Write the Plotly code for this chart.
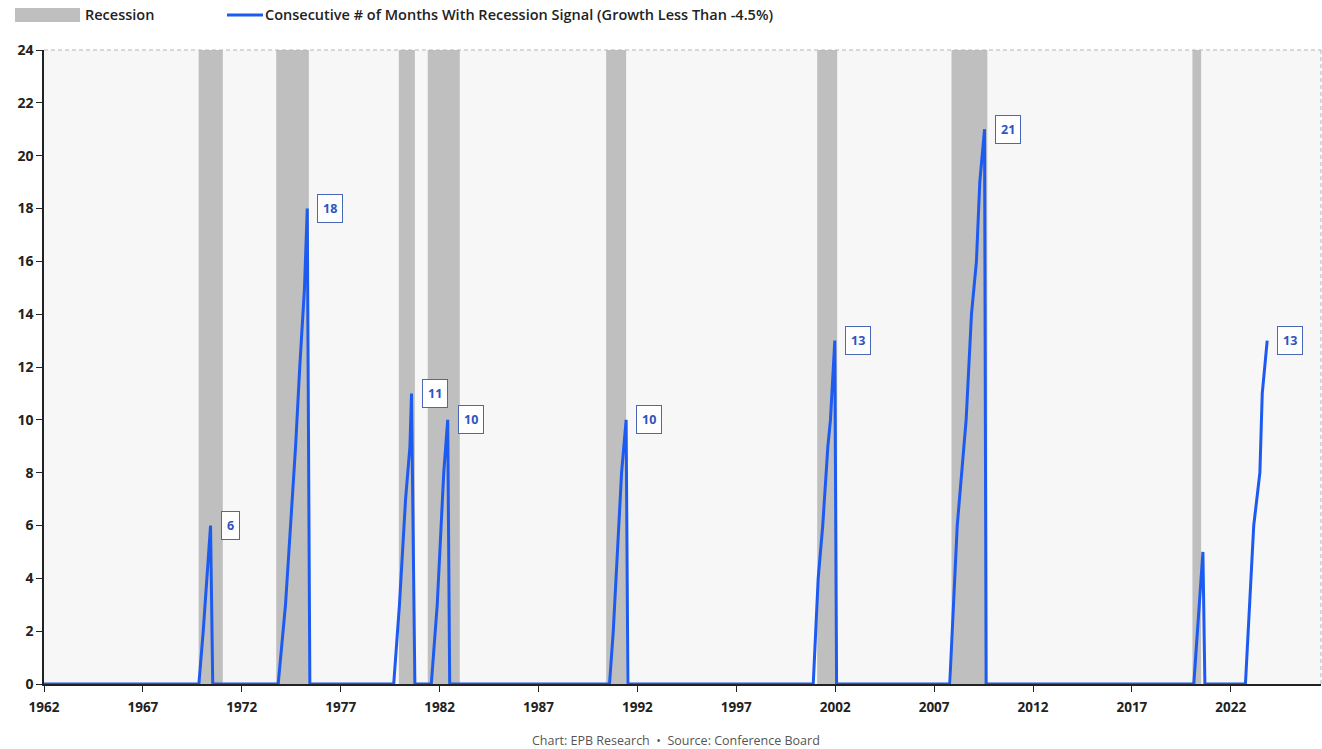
import plotly.graph_objects as go

# ---------------- data ----------------
recession_start = [1969.82, 1973.74, 1979.94, 1981.40, 1990.42, 2001.09, 2007.88, 2020.06]
recession_end = [1971.04, 1975.39, 1980.75, 1983.02, 1991.43, 2002.10, 2009.69, 2020.50]

signal_year = [
    1962.00,
    1969.83, 1970.05, 1970.42, 1970.53,
    1973.84, 1974.21, 1974.46, 1974.72, 1974.93, 1975.17, 1975.31, 1975.44,
    1979.68, 1979.97, 1980.28, 1980.50, 1980.58, 1980.75,
    1981.58, 1981.88, 1982.21, 1982.41, 1982.51,
    1990.59, 1990.78, 1990.98, 1991.20, 1991.43, 1991.52,
    2000.89, 2001.14, 2001.37, 2001.63, 2001.76, 2001.98, 2002.07,
    2007.79, 2008.17, 2008.62, 2008.89, 2009.14, 2009.31, 2009.55, 2009.63,
    2020.13, 2020.59, 2020.69,
    2022.74, 2023.16, 2023.47, 2023.59, 2023.84,
]
signal_count = [
    0,
    0, 2, 6, 0,
    0, 3, 6, 9, 12, 15, 18, 0,
    0, 3, 7, 9, 11, 0,
    0, 3, 8, 10, 0,
    0, 2, 5, 8, 10, 0,
    0, 4, 6, 9, 10, 13, 0,
    0, 6, 10, 14, 16, 19, 21, 0,
    0, 5, 0,
    0, 6, 8, 11, 13,
]

peak_year = [1970.42, 1975.31, 1980.58, 1982.41, 1991.43, 2001.98, 2009.55, 2023.84]
peak_count = [6, 18, 11, 10, 10, 13, 21, 13]

x_tick_years = list(range(1962, 2023, 5))
y_ticks = list(range(0, 25, 2))

# ---------------- styling ----------------
W, H = 1322, 749
PL, PR, PT, PB = 44, 1321, 50, 684
FONT = "Open Sans"
BLUE = "#1d5bf0"
LABEL_BLUE = "#2c55c0"
GRAY = "#bfbfbf"


def px_x(x):
    return (x - PL) / (PR - PL)


def px_y(y):
    return (PB - y) / (PB - PT)


fig = go.Figure()

fig.add_trace(go.Scatter(
    x=signal_year, y=signal_count, mode="lines",
    line=dict(color=BLUE, width=3), showlegend=False, hoverinfo="skip",
))

shapes = []
for s, e in zip(recession_start, recession_end):
    shapes.append(dict(type="rect", xref="x", yref="paper", x0=s, x1=e, y0=0, y1=1,
                       fillcolor=GRAY, line=dict(width=0), layer="below"))
# dashed top and right borders
shapes.append(dict(type="line", xref="paper", yref="paper", x0=0, x1=1, y0=1, y1=1,
                   line=dict(color="#b5b5b5", width=1, dash="4px,3px")))
shapes.append(dict(type="line", xref="paper", yref="paper", x0=1, x1=1, y0=0, y1=1,
                   line=dict(color="#b5b5b5", width=1, dash="4px,3px")))
# legend swatches
shapes.append(dict(type="rect", xref="paper", yref="paper",
                   x0=px_x(15), x1=px_x(80), y0=px_y(22), y1=px_y(8),
                   fillcolor=GRAY, line=dict(width=0)))
shapes.append(dict(type="line", xref="paper", yref="paper",
                   x0=px_x(227), x1=px_x(263), y0=px_y(15), y1=px_y(15),
                   line=dict(color=BLUE, width=3)))

annotations = []
for xv, yv in zip(peak_year, peak_count):
    annotations.append(dict(
        x=xv, y=yv, xref="x", yref="y", text=str(yv), showarrow=False,
        xanchor="left", yanchor="middle", xshift=10,
        font=dict(family=FONT, size=12.5, color=LABEL_BLUE, weight=700),
        bgcolor="white", bordercolor="#4a68b8", borderwidth=1, borderpad=5,
    ))

annotations.append(dict(x=px_x(83), y=px_y(15), xref="paper", yref="paper",
                        text="Recession", showarrow=False, xanchor="left", yanchor="middle",
                        font=dict(family=FONT, size=14.5, color="#222", weight=600)))
annotations.append(dict(x=px_x(263), y=px_y(15), xref="paper", yref="paper",
                        text="Consecutive # of Months With Recession Signal (Growth Less Than -4.5%)",
                        showarrow=False, xanchor="left", yanchor="middle",
                        font=dict(family=FONT, size=14.5, color="#222", weight=600)))
annotations.append(dict(x=px_x(676), y=px_y(741), xref="paper", yref="paper",
                        text="Chart: EPB Research  \u2022  Source: Conference Board",
                        showarrow=False, xanchor="center", yanchor="middle",
                        font=dict(family=FONT, size=12.5, color="#555")))

fig.update_layout(
    width=W, height=H,
    margin=dict(l=PL, r=W - PR, t=PT, b=H - PB),
    paper_bgcolor="white", plot_bgcolor="#f7f7f7",
    shapes=shapes, annotations=annotations, showlegend=False,
    xaxis=dict(range=[1962, 1962 + (PR - PL) / 19.78], tickvals=x_tick_years,
               ticktext=[str(t) for t in x_tick_years],
               showline=True, linecolor="#222", linewidth=1.5,
               ticks="outside", ticklen=6, tickcolor="#222", tickwidth=1,
               ticklabelstandoff=4,
               showgrid=False, zeroline=False, layer="below traces",
               tickfont=dict(family=FONT, size=13.5, color="#222", weight=700)),
    yaxis=dict(range=[0, 24], tickvals=y_ticks, ticktext=[str(t) for t in y_ticks],
               showline=True, linecolor="#222", linewidth=1.5,
               ticks="outside", ticklen=6, tickcolor="#222", tickwidth=1,
               showgrid=False, zeroline=False, layer="below traces",
               tickfont=dict(family=FONT, size=14, color="#222", weight=700)),
)

fig.write_html("out.html")
